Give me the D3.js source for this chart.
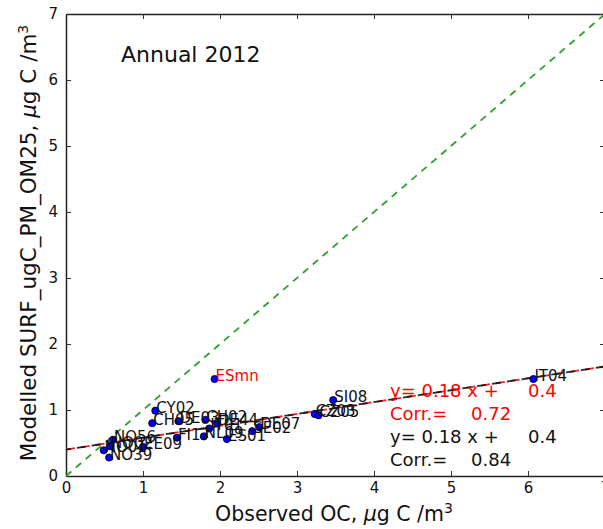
<!DOCTYPE html>
<html>
<head>
<meta charset="utf-8">
<script src="https://cdn.jsdelivr.net/npm/d3@7"></script>
<style>
  body { margin: 0; background: #fff; }
  svg { display: block; }
  text { font-family: "DejaVu Sans", sans-serif; fill: #111; }
</style>
</head>
<body>
<svg id="chart" width="603" height="529"></svg>
<script>
// Station codes and annual mean organic carbon (ug C / m3)
const sites    = ["CY02","CH05","DE03","CH02","IT01","DE44","NL09","FI17","ES01","SE02","DE07",
                  "NO56","NO01","NO02","NO39","EE09","ESmn","IT04","SI08","CZ03","CZ05"];
const observed = [1.16, 1.12, 1.46, 1.81, 1.86, 1.96, 1.79, 1.44, 2.09, 2.42, 2.51,
                  0.61, 0.49, 0.57, 0.56, 1.00, 1.93, 6.07, 3.47, 3.23, 3.28];
const modelled = [0.99, 0.80, 0.83, 0.85, 0.72, 0.80, 0.60, 0.58, 0.56, 0.68, 0.74,
                  0.55, 0.39, 0.45, 0.28, 0.44, 1.47, 1.47, 1.15, 0.94, 0.92];
const highlighted = ["ESmn"];

// Linear fits: all stations (red) and without highlighted stations (black)
const fitSlopes     = [0.18, 0.18];
const fitIntercepts = [0.4, 0.4];
const fitCorr       = [0.72, 0.84];

const axisTicks = [0, 1, 2, 3, 4, 5, 6, 7];
const title = "Annual 2012";

const svg = d3.select("#chart");
const plotLeft = 66, plotBottom = 476, plotTop = 14, plotRight = 605;

const x = d3.scaleLinear().domain([0, 7]).range([plotLeft, plotRight]);
const y = d3.scaleLinear().domain([0, 7]).range([plotBottom, plotTop]);

const fitColors = ["#ff0000", "#111111"];

// Axes with inward ticks on all four sides
const axisStyle = g => {
  g.select(".domain").attr("stroke", "#222").attr("stroke-width", 1.5);
  g.selectAll(".tick line").attr("stroke", "#333").attr("stroke-width", 1);
  g.selectAll(".tick text").attr("font-size", 15).attr("fill", "#111")
    .attr("font-family", "DejaVu Sans, sans-serif");
};

svg.append("g").attr("transform", `translate(0,${plotBottom})`)
  .call(d3.axisBottom(x).tickValues(axisTicks).tickFormat(d3.format("d"))
        .tickSizeInner(-5).tickSizeOuter(0).tickPadding(6))
  .call(axisStyle);
svg.append("g").attr("transform", `translate(0,${plotTop})`)
  .call(d3.axisTop(x).tickValues(axisTicks).tickFormat("")
        .tickSizeInner(-5).tickSizeOuter(0))
  .call(axisStyle);
svg.append("g").attr("transform", `translate(${plotLeft},0)`)
  .call(d3.axisLeft(y).tickValues(axisTicks).tickFormat(d3.format("d"))
        .tickSizeInner(-5).tickSizeOuter(0).tickPadding(8))
  .call(axisStyle);
svg.append("g").attr("transform", `translate(${plotRight},0)`)
  .call(d3.axisRight(y).tickValues(axisTicks).tickFormat("")
        .tickSizeInner(-5).tickSizeOuter(0))
  .call(axisStyle);

const plot = svg.append("g");

// 1:1 line
plot.append("line")
  .attr("x1", x(0)).attr("y1", y(0)).attr("x2", x(7)).attr("y2", y(7))
  .attr("stroke", "#2ea02e").attr("stroke-width", 1.8)
  .attr("stroke-dasharray", "7,6");

// Regression lines
fitSlopes.forEach((s, i) => {
  plot.append("line")
    .attr("x1", x(0)).attr("y1", y(fitIntercepts[i]))
    .attr("x2", x(7)).attr("y2", y(fitIntercepts[i] + s * 7))
    .attr("stroke", fitColors[i]).attr("stroke-width", 1.8)
    .attr("stroke-dasharray", "9,6")
    .attr("stroke-dashoffset", i === 0 ? 0 : 4)
    .attr("stroke-opacity", 0.9);
});

// Station points
const pts = sites.map((s, i) => ({ site: s, obs: observed[i], mod: modelled[i] }));
plot.selectAll("circle.pt").data(pts).join("circle")
  .attr("class", "pt")
  .attr("cx", d => x(d.obs)).attr("cy", d => y(d.mod)).attr("r", 3.6)
  .attr("fill", "#0000ff").attr("stroke", "#000").attr("stroke-width", 0.8);

// Station labels
plot.selectAll("text.lbl").data(pts).join("text")
  .attr("class", "lbl")
  .attr("x", d => x(d.obs) + 1).attr("y", d => y(d.mod) + 2)
  .attr("font-size", 15)
  .style("fill", d => highlighted.includes(d.site) ? "#ff0000" : "#111")
  .text(d => d.site);

// Fit statistics
const f2 = d3.format(".2f"), f1 = d3.format(".1f");
const statRows = [];
fitSlopes.forEach((s, i) => {
  statRows.push({ lab: `y= ${f2(s)} x +`, val: f1(fitIntercepts[i]), vx: 528, c: fitColors[i] });
  statRows.push({ lab: "Corr.=", val: f2(fitCorr[i]), vx: 471, c: fitColors[i] });
});
statRows.forEach((r, k) => {
  const by = 397 + k * 23;
  svg.append("text").attr("x", 390).attr("y", by).attr("font-size", 18)
    .style("fill", r.c).text(r.lab);
  svg.append("text").attr("x", r.vx).attr("y", by).attr("font-size", 18)
    .style("fill", r.c).text(r.val);
});

// Title
svg.append("text").attr("x", 121).attr("y", 62).attr("font-size", 22).text(title);

// Axis titles
const xl = svg.append("text").attr("x", 334).attr("y", 521)
  .attr("text-anchor", "middle").attr("font-size", 20.5);
xl.append("tspan").text("Observed OC, ");
xl.append("tspan").attr("font-style", "italic").text("\u03bc");
xl.append("tspan").text("g C /m");
xl.append("tspan").attr("font-size", 14).attr("dy", -8).text("3");

const yl = svg.append("text")
  .attr("transform", "translate(36,243) rotate(-90)")
  .attr("text-anchor", "middle").attr("font-size", 21.5);
yl.append("tspan").text("Modelled SURF_ugC_PM_OM25, ");
yl.append("tspan").attr("font-style", "italic").text("\u03bc");
yl.append("tspan").text("g C /m");
yl.append("tspan").attr("font-size", 14).attr("dy", -8).text("3");
</script>
</body>
</html>
